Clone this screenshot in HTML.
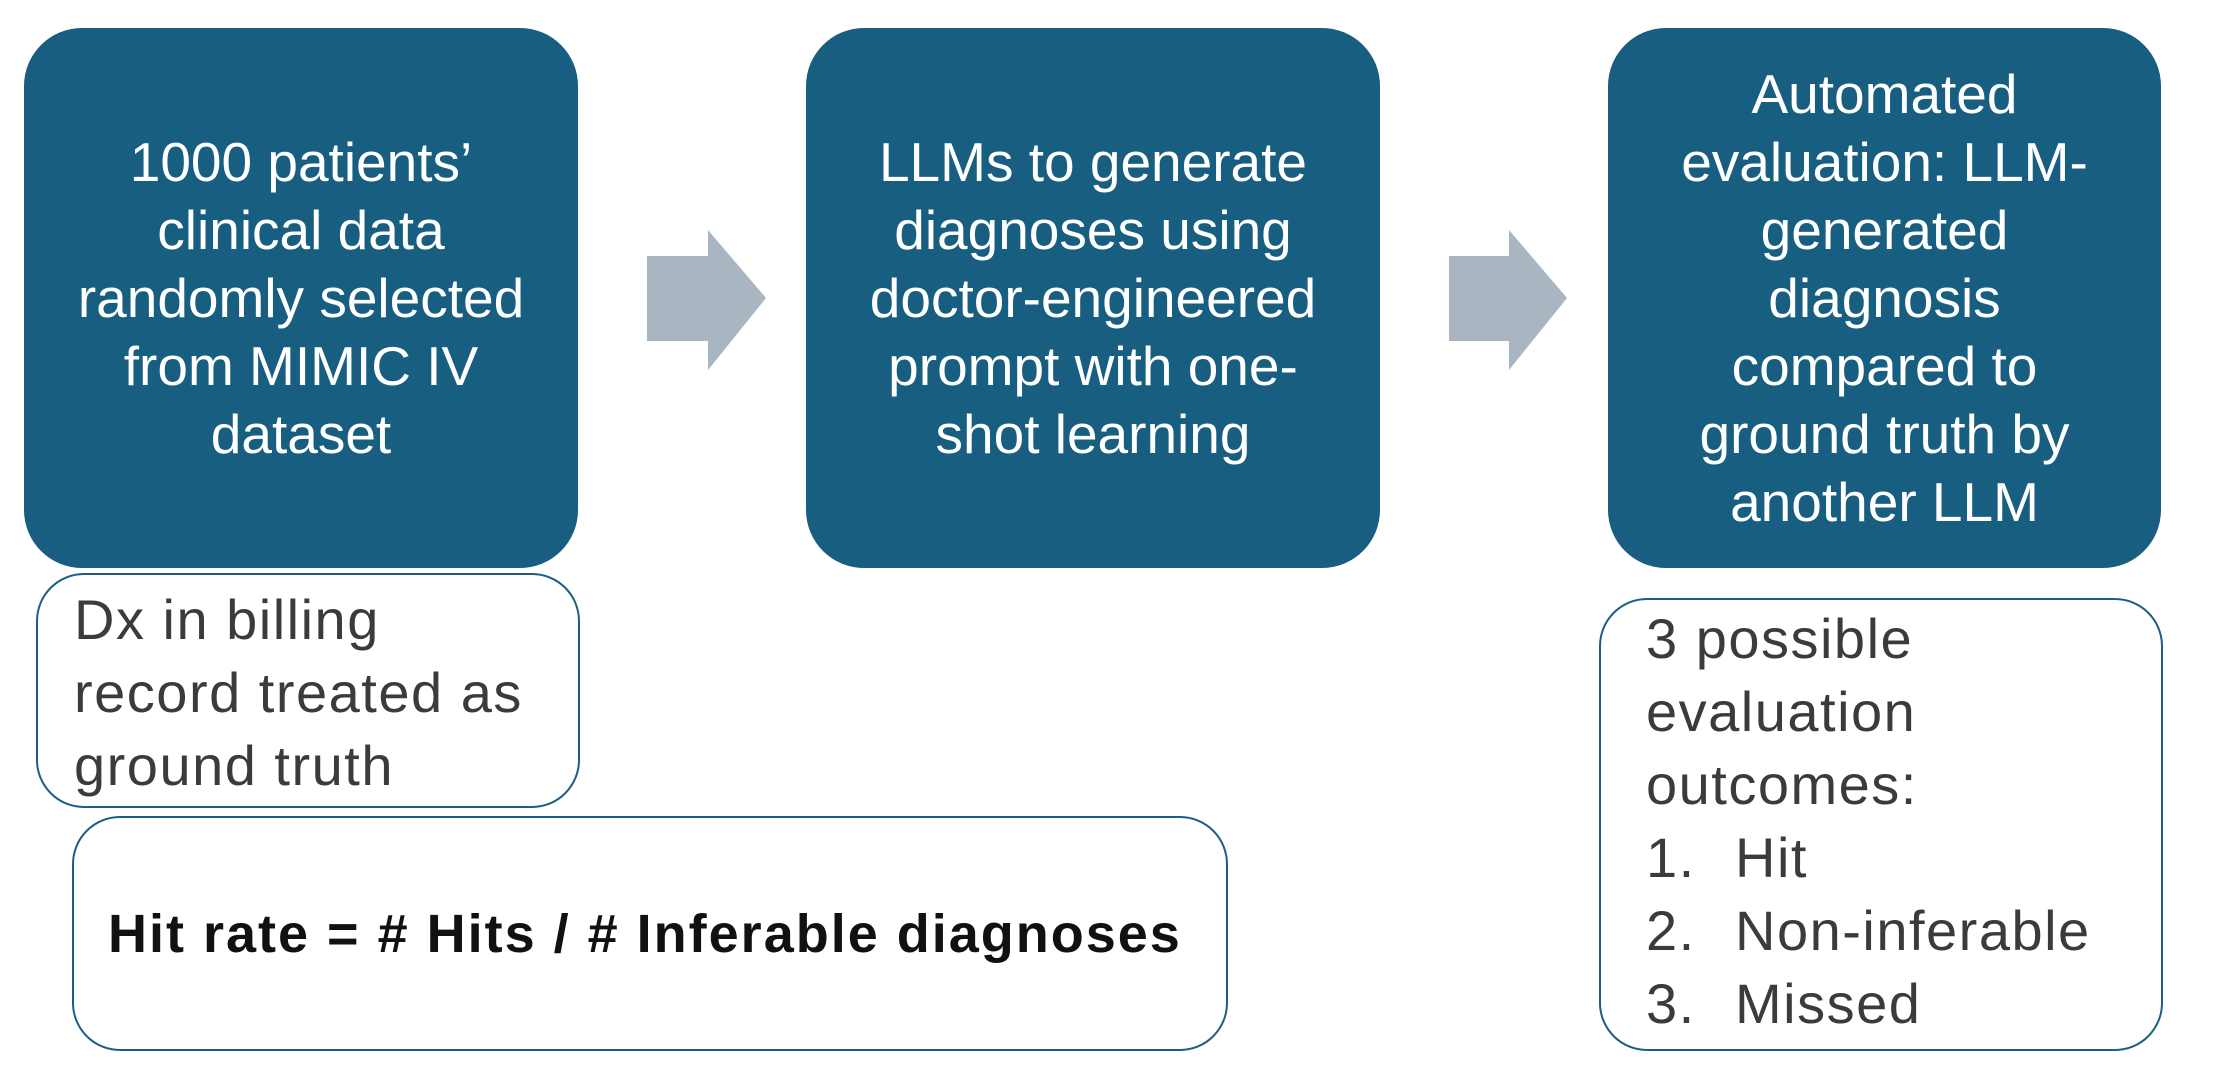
<!DOCTYPE html>
<html><head><meta charset="utf-8"><style>
body{margin:0;width:2227px;height:1092px;background:#fff;position:relative;overflow:hidden;font-family:"Liberation Sans",sans-serif}
.b{position:absolute;background:#175e80;border-radius:58px;color:#fff;font-size:55px;letter-spacing:0px;line-height:68px;text-align:center;display:flex;align-items:center;justify-content:center}
.o{position:absolute;border:2.5px solid #1d5f82;border-radius:48px;box-sizing:border-box;color:#3b3b3b;font-size:56px;letter-spacing:1.5px;line-height:73px}
.t{position:absolute;white-space:nowrap}
</style></head><body>
<div class="b" style="left:24px;top:28px;width:554px;height:540px"><div>1000 patients’<br>clinical data<br>randomly selected<br>from MIMIC IV<br>dataset</div></div>
<div class="b" style="left:806px;top:28px;width:574px;height:540px"><div>LLMs to generate<br>diagnoses using<br>doctor-engineered<br>prompt with one-<br>shot learning</div></div>
<div class="b" style="left:1608px;top:28px;width:553px;height:540px"><div>Automated<br>evaluation: LLM-<br>generated<br>diagnosis<br>compared to<br>ground truth by<br>another LLM</div></div>
<svg style="position:absolute;left:0;top:0" width="2227" height="1092">
<polygon points="647,256 708,256 708,230 766,298 708,370 708,341 647,341" fill="#a9b5c0"/>
<polygon points="1449,256 1509,256 1509,230 1567,298 1509,370 1509,341 1449,341" fill="#a9b5c0"/>
</svg>
<div class="o" style="left:36px;top:573px;width:544px;height:235px"><div class="t" style="left:36px;top:8px">Dx in billing<br>record treated as<br>ground truth</div></div>
<div class="o" style="left:72px;top:816px;width:1156px;height:235px"><div class="t" style="left:34px;top:80px;font-weight:bold;color:#111;font-size:54px;letter-spacing:2px">Hit rate = # Hits / # Inferable diagnoses</div></div>
<div class="o" style="left:1599px;top:598px;width:564px;height:453px">
<div class="t" style="left:45px;top:2px">3 possible<br>evaluation<br>outcomes:<br>1.<br>2.<br>3.</div>
<div class="t" style="left:134px;top:221px">Hit<br>Non-inferable<br>Missed</div>
</div>
</body></html>
